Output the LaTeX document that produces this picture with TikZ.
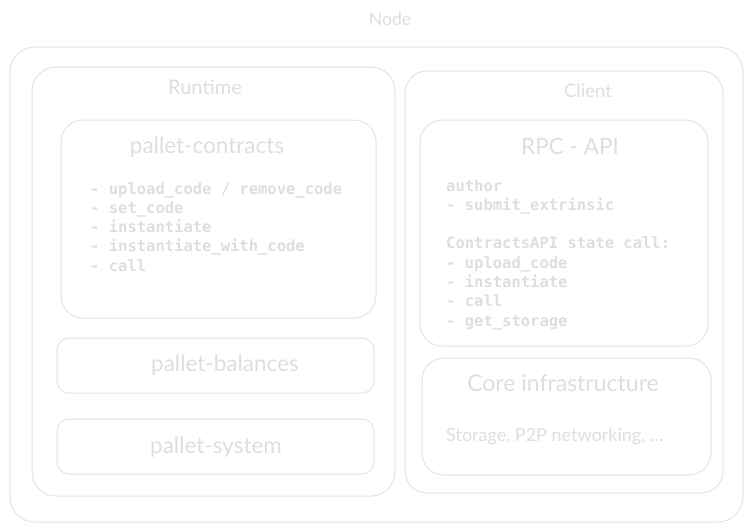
\documentclass[tikz,border=0pt]{standalone}
\usepackage{fontspec}
\setmainfont{Lato}
\setmonofont{DejaVu Sans Mono}
\definecolor{edge}{HTML}{E3E3E3}
\definecolor{ink}{HTML}{DEDEDE}

\tikzset{
  box/.style={draw=edge, line width=1pt, rounded corners=#1, inner sep=0pt},
  head/.style={text=ink, inner sep=0pt, font=\fontsize{#1}{#1}\selectfont},
  code/.style={text=ink, inner sep=0pt, align=left, anchor=base west,
    font=\ttfamily\bfseries\fontsize{15.5}{19.3}\selectfont}
}

\begin{document}
\begin{tikzpicture}[x=1pt,y=-1pt]
\useasboundingbox (0,0) rectangle (752,531);

% outer frames
\node[box=25, minimum width=733pt, minimum height=475pt] (node) at (376.5,284.5) {};
\node[box=24, minimum width=363pt, minimum height=429pt] (runtime) at (213.5,281.5) {};
\node[box=22, minimum width=318pt, minimum height=422pt] (client) at (564,282) {};

\node[head=17.5] (nodetitle) at (390,19) {Node};
\node[head=20] (runtimetitle) at (205,87) {Runtime};
\node[head=18.5] (clienttitle) at (588,91) {Client};

% runtime pallets
\node[box=22, minimum width=315pt, minimum height=198pt] (contracts) at (218.5,219) {};
\node[box=12, minimum width=317pt, minimum height=55pt] (balances) at (215.5,365.5) {};
\node[box=12, minimum width=317pt, minimum height=55pt] (system) at (215.5,446.5) {};

\node[head=22.5] (contractstitle) at (207,147) {pallet-contracts};
% base anchor sits on the last line
\node[code] (contractsfns) at (90,271.2) {- upload\_code / remove\_code\\- set\_code\\- instantiate\\- instantiate\_with\_code\\- call};
\node[head=22.5] (balancestitle) at (225,365) {pallet-balances};
\node[head=22.5] (systemtitle) at (216,447) {pallet-system};

% client parts
\node[box=22, minimum width=288pt, minimum height=226pt] (rpc) at (564,233) {};
\node[box=22, minimum width=289pt, minimum height=117pt] (core) at (566.5,416.5) {};

\node[head=22.5] (rpctitle) at (570,146) {RPC - API};
\node[code] (rpcfns) at (446,326.1) {author\\- submit\_extrinsic\\[19.3pt]ContractsAPI state call:\\- upload\_code\\- instantiate\\- call\\- get\_storage};
\node[head=23] (coretitle) at (563,383) {Core infrastructure};
\node[head=18, anchor=base west] (coretext) at (446,441) {Storage, P2P networking, \dots};
\end{tikzpicture}
\end{document}
